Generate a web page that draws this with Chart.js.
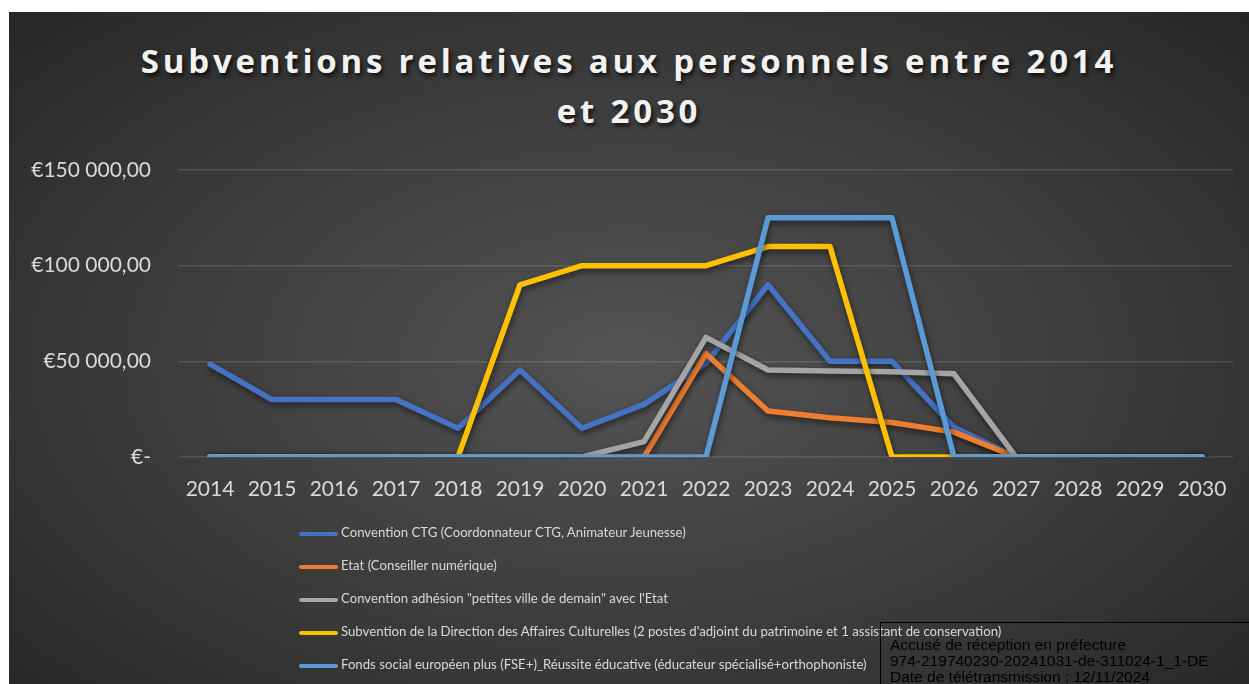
<!DOCTYPE html>
<html lang="fr">
<head>
<meta charset="utf-8">
<script src="https://cdn.jsdelivr.net/npm/chart.js@4/dist/chart.umd.min.js"></script>
<style>
  html, body { margin: 0; padding: 0; background: #ffffff; }
  #page { position: relative; width: 1249px; height: 684px; overflow: hidden; background: #ffffff; }
  #panel {
    position: absolute; left: 9px; top: 12px; width: 1240px; height: 672px;
    background: radial-gradient(ellipse 70% 75% at 50% 52%, #545454 0%, #3c3c3c 55%, #262626 100%);
  }
  #chart { position: absolute; left: 0; top: 0; }
  #title {
    position: absolute; left: 9px; width: 1240px; top: 36px; text-align: center;
    font-family: "Open Sans", sans-serif; font-weight: 700; font-size: 33px;
    letter-spacing: 3.8px; line-height: 50px; color: #f2f2f2;
    text-shadow: 2px 3px 4px rgba(0,0,0,0.75);
  }
  #legend { position: absolute; left: 299px; top: 522px; }
  .item { position: relative; height: 33px; font-family: Lato, sans-serif; font-size: 13.2px; color: #d9d9d9; white-space: nowrap; }
  .item .swatch { position: absolute; left: 0; top: 10px; width: 39px; height: 4px; border-radius: 2px; }
  .item .txt { position: absolute; left: 42px; top: 2px; }
  #stamp {
    position: absolute; left: 880px; top: 622px; width: 400px; height: 100px;
    border: 1px solid #000; box-sizing: border-box; padding: 14px 0 0 9px;
    font-family: "Liberation Sans", Arial, sans-serif; font-size: 15.5px; line-height: 16px; color: #000;
  }
</style>
</head>
<body>
<div id="page">
  <div id="panel"></div>
  <div id="title">Subventions relatives aux personnels entre 2014<br>et 2030</div>
  <canvas id="chart" width="1249" height="684"></canvas>
  <div id="legend"></div>
  <div id="stamp">Accusé de réception en préfecture<br>974-219740230-20241031-de-311024-1_1-DE<br>Date de télétransmission : 12/11/2024</div>
</div>
<script>
// Années
const years = ['2014','2015','2016','2017','2018','2019','2020','2021','2022','2023','2024','2025','2026','2027','2028','2029','2030'];

// Montants par financeur (en euros)
const convCTG = [48500, 30000, 30000, 30000, 15000, 45500, 15000, 27500, 49000, 90000, 50000, 50000, 15500, 0, 0, 0, 0];
const etatNum = [0, 0, 0, 0, 0, 0, 0, 0, 54000, 24000, 20500, 18000, 13000, 0, 0, 0, 0];
const petitesVilles = [0, 0, 0, 0, 0, 0, 0, 8000, 62500, 45500, 45000, 44500, 43500, 0, 0, 0, 0];
const dacPostes = [0, 0, 0, 0, 0, 90000, 100000, 100000, 100000, 110000, 110000, 0, 0, 0, 0, 0, 0];
const fsePlus = [0, 0, 0, 0, 0, 0, 0, 0, 0, 125000, 125000, 125000, 0, 0, 0, 0, 0];

// Libellés des séries
const seriesLabels = [
  'Convention CTG (Coordonnateur CTG, Animateur Jeunesse)',
  'Etat (Conseiller numérique)',
  'Convention adhésion "petites ville de demain" avec l\'Etat',
  'Subvention de la Direction des Affaires Culturelles (2 postes d\'adjoint du patrimoine et 1 assistant de conservation)',
  'Fonds social européen plus (FSE+)_Réussite éducative (éducateur spécialisé+orthophoniste)'
];
const seriesColors = ['#4472C4', '#ED7D31', '#A5A5A5', '#FFC000', '#5B9BD5'];

// Graduations de l'axe des montants
const yTickValues = [0, 50000, 100000, 150000];
const yTickLabels = ['€-', '€50 000,00', '€100 000,00', '€150 000,00'];

const seriesValues = [convCTG, etatNum, petitesVilles, dacPostes, fsePlus];

const datasets = seriesValues.map((vals, i) => ({
  label: seriesLabels[i],
  data: vals,
  borderColor: seriesColors[i],
  backgroundColor: seriesColors[i],
  borderWidth: 5.5,
  pointRadius: 0,
  pointHoverRadius: 0,
  tension: 0,
  fill: false,
  borderCapStyle: 'round',
  borderJoinStyle: 'round',
  order: seriesValues.length - i
}));

// Ombre portée sous les courbes
const lineShadow = {
  id: 'lineShadow',
  beforeDatasetsDraw(chart) {
    const ctx = chart.ctx;
    ctx.save();
    ctx.shadowColor = 'rgba(0,0,0,0.55)';
    ctx.shadowBlur = 6;
    ctx.shadowOffsetX = 1;
    ctx.shadowOffsetY = 3;
  },
  afterDatasetsDraw(chart) {
    chart.ctx.restore();
  }
};

new Chart(document.getElementById('chart'), {
  type: 'line',
  data: { labels: years, datasets },
  plugins: [lineShadow],
  options: {
    responsive: false,
    animation: false,
    events: [],
    layout: { padding: { top: 170, right: 16, bottom: 0, left: 0 } },
    plugins: {
      legend: { display: false },
      title: { display: false },
      tooltip: { enabled: false }
    },
    scales: {
      x: {
        offset: true,
        grid: { display: false, drawTicks: false },
        border: { display: false },
        ticks: {
          color: '#d9d9d9',
          font: { family: 'Lato', size: 21 },
          padding: 20,
          maxRotation: 0,
          autoSkip: false
        },
        afterFit(scale) { scale.height = 227; }
      },
      y: {
        min: 0,
        max: 150000,
        afterBuildTicks(scale) { scale.ticks = yTickValues.map(v => ({ value: v })); },
        grid: { color: 'rgba(255,255,255,0.13)', lineWidth: 1.5, drawTicks: false },
        border: { display: false },
        ticks: {
          color: '#d9d9d9',
          font: { family: 'Lato', size: 21 },
          padding: 28,
          callback(value) {
            const k = yTickValues.indexOf(value);
            return k >= 0 ? yTickLabels[k] : '';
          }
        },
        afterFit(scale) { scale.width = 179; }
      }
    }
  }
});

// Légende verticale
const legend = document.getElementById('legend');
seriesLabels.forEach((label, i) => {
  const row = document.createElement('div');
  row.className = 'item';
  const sw = document.createElement('span');
  sw.className = 'swatch';
  sw.style.background = seriesColors[i];
  const tx = document.createElement('span');
  tx.className = 'txt';
  tx.textContent = label;
  row.appendChild(sw);
  row.appendChild(tx);
  legend.appendChild(row);
});
</script>
</body>
</html>
